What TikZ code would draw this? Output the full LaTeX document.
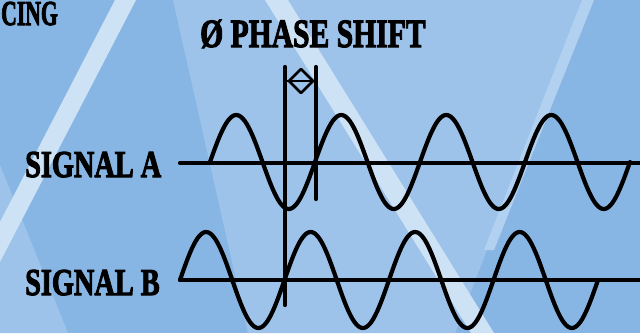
\documentclass[tikz,border=0pt]{standalone}
\usepackage{fontspec}
\usepackage{graphicx}
\setmainfont{Liberation Serif}
\newfontfamily\deco{Liberation Serif Bold}[FakeBold=3]
\usetikzlibrary{arrows.meta}
\definecolor{bgbase}{RGB}{136,182,228}
\definecolor{bglight}{RGB}{157,195,234}
\definecolor{bgstripe}{RGB}{206,226,245}
\definecolor{bgstripeb}{RGB}{178,209,240}
\begin{document}
\begin{tikzpicture}[x=1pt,y=-1pt,
  wave/.style={line width=4.2pt, line join=round, line cap=round},
  axisline/.style={line width=4.2pt, line cap=round},
  marker/.style={line width=4.2pt, line cap=round},
  shiftmark/.style={line width=2.8pt, line join=round, line cap=round},
  txt/.style={inner sep=0pt, anchor=base west, text=black}]
\useasboundingbox (0,0) rectangle (640,333);
% background
\fill[bgbase] (0,0) rectangle (640,333);
\fill[bglight] (173,0) -- (585,0) -- (487,250) -- (455,333) -- (248,333) -- cycle;
\fill[bglight] (0,165) -- (68,333) -- (0,333) -- cycle;
\fill[bgstripe] (115,0) -- (136,0) -- (0,262) -- (0,222) -- cycle;
\fill[bgstripe] (265,0) -- (288,0) -- (494,333) -- (471,333) -- cycle;
\fill[bgstripeb] (582,0) -- (594,0) -- (494,250) -- (484,250) -- cycle;
% texts
\node[txt, text height=22pt, font=\fontsize{35}{35}\selectfont\deco] (cing) at (1,25) {\scalebox{0.62}[1]{CING}};
\node[txt, font=\fontsize{40}{40}\selectfont\deco] (phase) at (200,47) {\scalebox{0.74}[1]{Ø PHASE SHIFT}};
\node[txt, font=\fontsize{38}{38}\selectfont\deco] (siga) at (25,177) {\scalebox{0.745}[1]{SIGNAL A}};
\node[txt, font=\fontsize{38}{38}\selectfont\deco] (sigb) at (25,295) {\scalebox{0.745}[1]{SIGNAL B}};
% axes
\coordinate (aL) at (180,163);
\coordinate (aR) at (643,163);
\coordinate (bL) at (180,280);
\coordinate (bR) at (643,280);
\draw[axisline] (aL) -- (aR);
\draw[axisline] (bL) -- (bR);
% waves
\draw[wave] plot[domain=210:630, samples=241] (\x,{162-47*sin((\x-210)/105*360)});
\draw[wave] plot[domain=180:598, samples=241] (\x,{280-48*sin((\x-180)/104.5*360)});
% markers
\coordinate (v1t) at (285,67);
\coordinate (v1b) at (285,305);
\coordinate (v2t) at (316,67);
\coordinate (v2b) at (316,199);
\draw[marker] (v1t) -- (v1b);
\draw[marker] (v2t) -- (v2b);
\coordinate (arL) at (289,81);
\coordinate (arR) at (313,81);
\coordinate (arT) at (301,69);
\coordinate (arB) at (301,93);
\draw[shiftmark] (v1t |- arL) -- (v2t |- arR);
\draw[shiftmark] (arL) -- (arT) -- (arR) -- (arB) -- cycle;
\end{tikzpicture}
\end{document}
